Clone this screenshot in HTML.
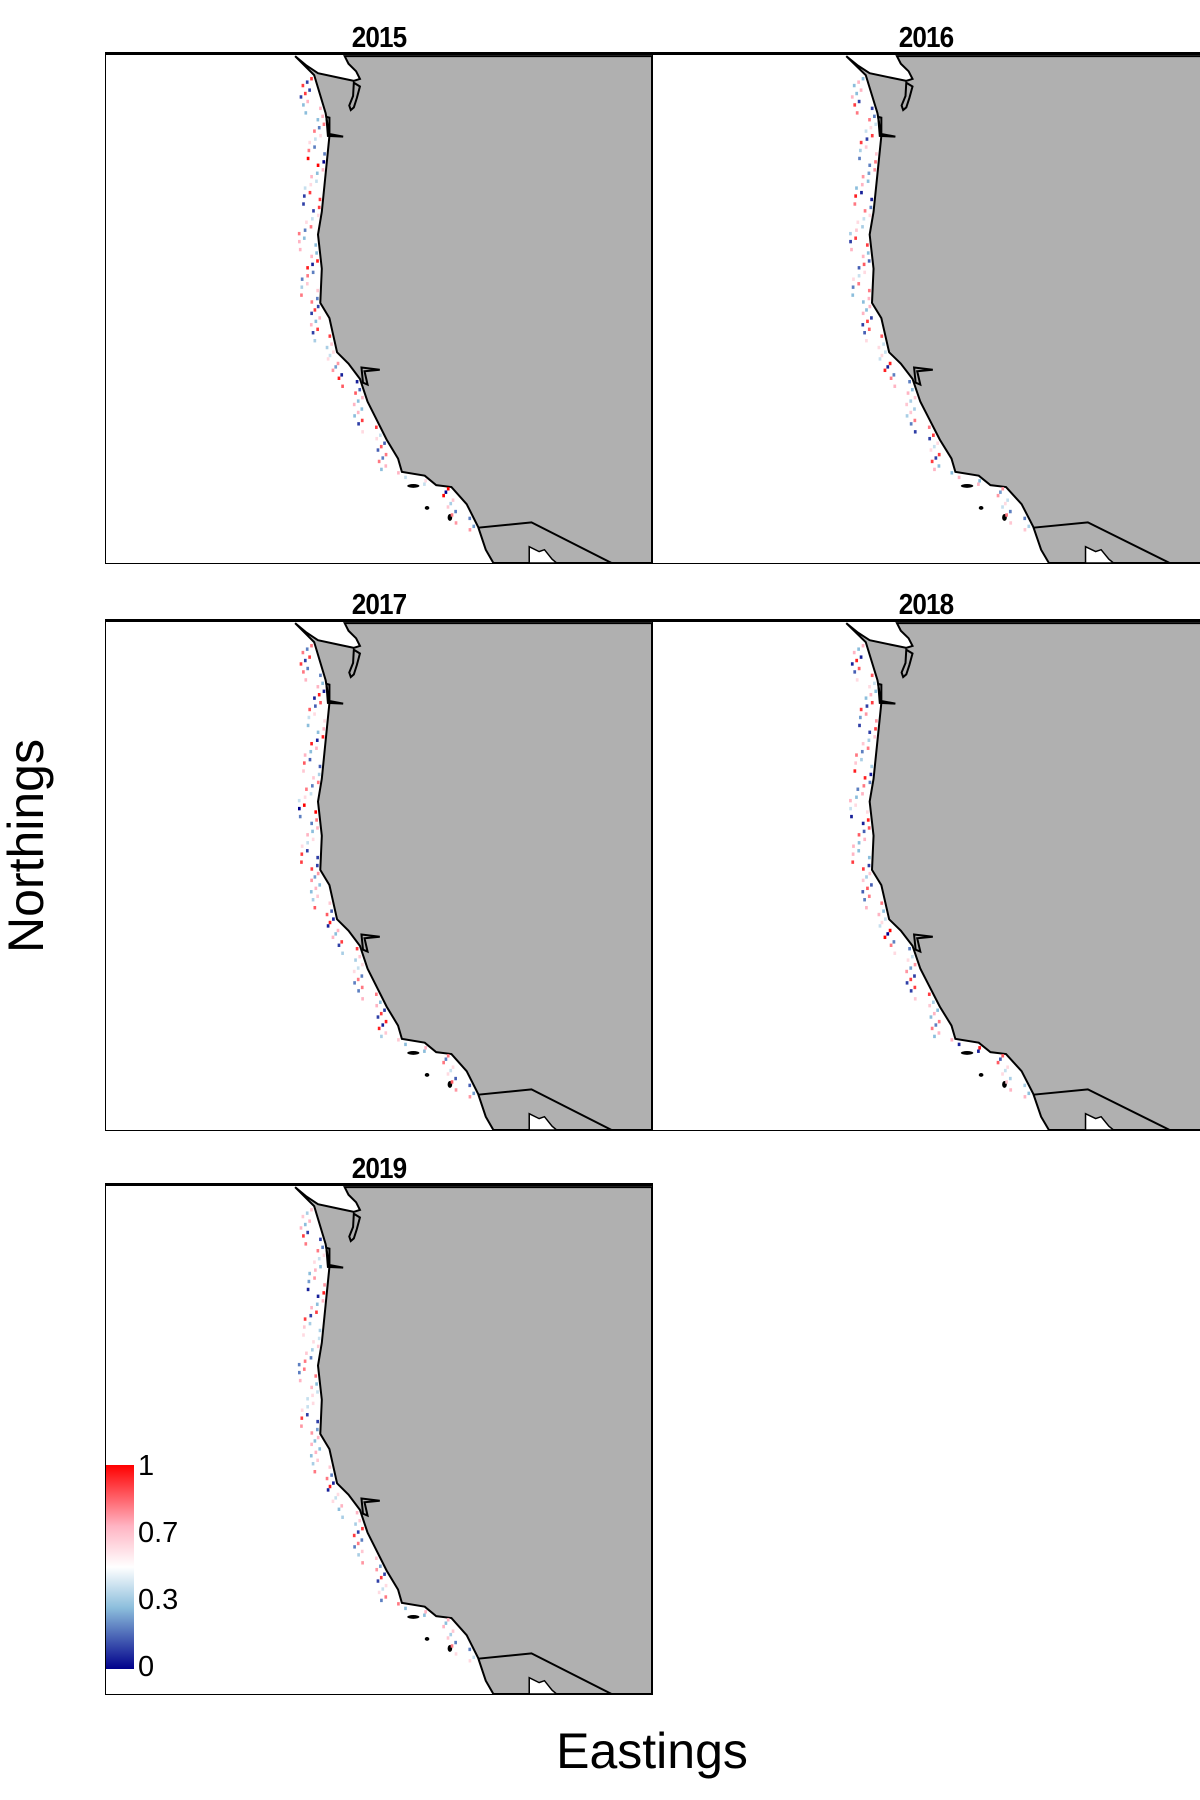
<!DOCTYPE html>
<html><head><meta charset="utf-8"><style>
body{margin:0;background:#fff;width:1200px;height:1800px;position:relative;overflow:hidden;font-family:"Liberation Sans",sans-serif}
.t{position:absolute;font-weight:bold;font-size:29px;transform:translateX(-50%) scaleX(0.9);letter-spacing:-1px}
.p{position:absolute;border:1.6px solid #000;border-top-width:3px;box-sizing:border-box;background:#fff}
.p svg{position:absolute;left:0;top:0;width:100%;height:100%}
</style></head><body>
<div id="root"></div>
<div style="position:absolute;left:26px;top:846px;font-size:50px;transform:translate(-50%,-50%) rotate(-90deg)">Northings</div>
<div style="position:absolute;left:652px;top:1751px;font-size:50px;transform:translate(-50%,-50%)">Eastings</div>
<script>
const years=["2015","2016","2017","2018","2019"];
const v2015=[0.9,0.1,0.7,0.3,0.8,0.6,0.2,1,0.7,0.4,0.9,0.1,0.6,0.8,0.3,0.7,0.95,0.2,0.65,0.8,0.1,0.7,0.9,0.35,0.6,0.75,0.05,0.85,0.7,0.3,0.9,0.6,0.15,0.8,0.7,0.4,1,0.65,0.2,0.75];
const v2016=[0.3,0.7,0.1,0.8,0.4,0.9,0.65,0.2,0.75,0.3,0.05,0.8,0.6,0.35,0.9,0.7,0.15,0.6,0.8,0.3,0.7,0.1,0.85,0.6,0.4,0.95,0.2,0.7,0.65,0.35,0.8,0.1,0.6,0.9,0.3,0.7,0.75,0.4,0.2,0.65];
const v2017=[0.8,0.9,0.2,0.7,0.05,0.85,0.6,0.3,0.95,0.7,0.15,0.65,0.8,0.4,1,0.2,0.7,0.6,0.1,0.9,0.75,0.3,0.65,0.85,0.05,0.7,0.9,0.35,0.6,0.2,0.8,0.7,0.1,0.95,0.65,0.3,0.8,0.6,0.15,0.75];
const v2018=[0.7,0.05,0.85,0.6,0.3,0.9,0.75,0.1,0.65,0.8,0.35,0.95,0.2,0.7,0.6,0.05,0.85,0.7,0.3,0.9,0.65,0.15,0.8,0.7,0.4,1,0.2,0.6,0.75,0.1,0.9,0.65,0.3,0.8,0.7,0.05,0.85,0.6,0.35,0.7];
const v2019=[0.65,0.7,0.1,0.8,0.6,0.3,0.75,0.05,0.7,0.9,0.35,0.6,0.65,0.2,0.8,0.7,0.4,0.6,0.1,0.75,0.7,0.3,0.65,0.8,0.05,0.6,0.7,0.35,0.9,0.2,0.65,0.75,0.1,0.6,0.8,0.3,0.7,0.65,0.2,0.6];
const vals=[v2015,v2016,v2017,v2018,v2019];
const panels=[[105,52],[652,52],[105,619],[652,619],[105,1183]];
const coast=[[410,190],[425,290],[430,350],[425,450],[420,550],[415,610],[420,700],[418,790],[430,830],[440,920],[455,950],[470,990],[480,1050],[490,1090],[505,1150],[520,1200],[525,1235],[555,1245],[570,1270],[590,1275],[610,1320],[625,1380],[635,1440],[645,1475]];
function coastX(y){for(let i=1;i<coast.length;i++){if(y<=coast[i][1]){const a=coast[i-1],b=coast[i];return a[0]+(b[0]-a[0])*(y-a[1])/(b[1]-a[1]);}}return 645;}
function col(v){const s=[[0,[0,0,139]],[0.3,[140,190,220]],[0.5,[255,255,255]],[0.7,[255,180,195]],[1,[255,0,0]]];for(let i=1;i<s.length;i++){if(v<=s[i][0]){const t=(v-s[i-1][0])/(s[i][0]-s[i-1][0]);const c=s[i-1][1].map((x,k)=>Math.round(x+(s[i][1][k]-x)*t));return `rgb(${c})`;}}return 'rgb(255,0,0)';}
const NS='http://www.w3.org/2000/svg';
const root=document.getElementById('root');
const landPts="385,140 400,165 415,185 445,198 462,205 470,200 465,180 455,160 450,140 853,140 853,1475 "+coast.slice().reverse().map(p=>p.join(',')).join(' ')+" 410,190 385,140";
years.forEach((yr,k)=>{
 const [px,py]=panels[k];
 const t=document.createElement('div');t.className='t';t.textContent=yr;
 
 
 t.style.left=(px+274)+'px';t.style.top=(py-30)+'px';root.appendChild(t);
 const d=document.createElement('div');d.className='p';
 
 
 d.style.left=px+'px';d.style.top=py+'px';d.style.width=(k%2==0?548:560)+'px';d.style.height='512px';
 const s=document.createElementNS(NS,'svg');s.setAttribute('viewBox','137 137 716 1338');s.setAttribute('preserveAspectRatio','none');
 let h=`<polygon points="${landPts}" fill="#b0b0b0" stroke="#000" stroke-width="2" vector-effect="non-scaling-stroke"/>`;
 h+=`<polyline points="625,1382 695,1368 800,1475" fill="none" stroke="#000" stroke-width="2" vector-effect="non-scaling-stroke"/>`;
 h+=`<path d="M692,1475 L692,1432 L705,1445 L712,1440 L722,1465 L728,1475Z" fill="#fff" stroke="#000" stroke-width="1.5" vector-effect="non-scaling-stroke"/>`;
 h+=`<path d="M462,210 L470,220 L466,250 L462,275 L458,282 L456,270 L461,245Z M426,300 L430,302 L430,345 L448,352 L428,350 Z M472,960 L496,966 L476,970 L480,1005 L474,1000 Z" fill="none" stroke="#000" stroke-width="2" vector-effect="non-scaling-stroke"/>`;
 h+=`<ellipse cx="540" cy="1272" rx="8" ry="5" fill="#000"/><ellipse cx="558" cy="1330" rx="3" ry="5" fill="#000"/><ellipse cx="588" cy="1355" rx="3" ry="9" fill="#000"/>`;
 s.innerHTML=h;
 const arr=vals[k];
 arr.forEach((v,i)=>{for(let j=0;j<3;j++){
   const y=195+i*30+j*9;const x=coastX(y)-6-((i+j)%4)*7;
   const r=document.createElementNS(NS,'rect');
   
   
   r.setAttribute('x',x);r.setAttribute('y',y);r.setAttribute('width',3.5);r.setAttribute('height',9);
   r.setAttribute('fill',col(j==1?1-v:v));s.appendChild(r);}});
 d.appendChild(s);root.appendChild(d);
});
</script>
<div style="position:absolute;left:106px;top:1465px;width:28px;height:204px;background:linear-gradient(to top,#00008b 0%,#8cbedc 30%,#fff 50%,#ffb4c3 70%,#f00 100%)"></div>
<div style="position:absolute;left:138px;top:1450px;font-size:29px">1</div>
<div style="position:absolute;left:138px;top:1517px;font-size:29px">0.7</div>
<div style="position:absolute;left:138px;top:1584px;font-size:29px">0.3</div>
<div style="position:absolute;left:138px;top:1651px;font-size:29px">0</div>
</body></html>
